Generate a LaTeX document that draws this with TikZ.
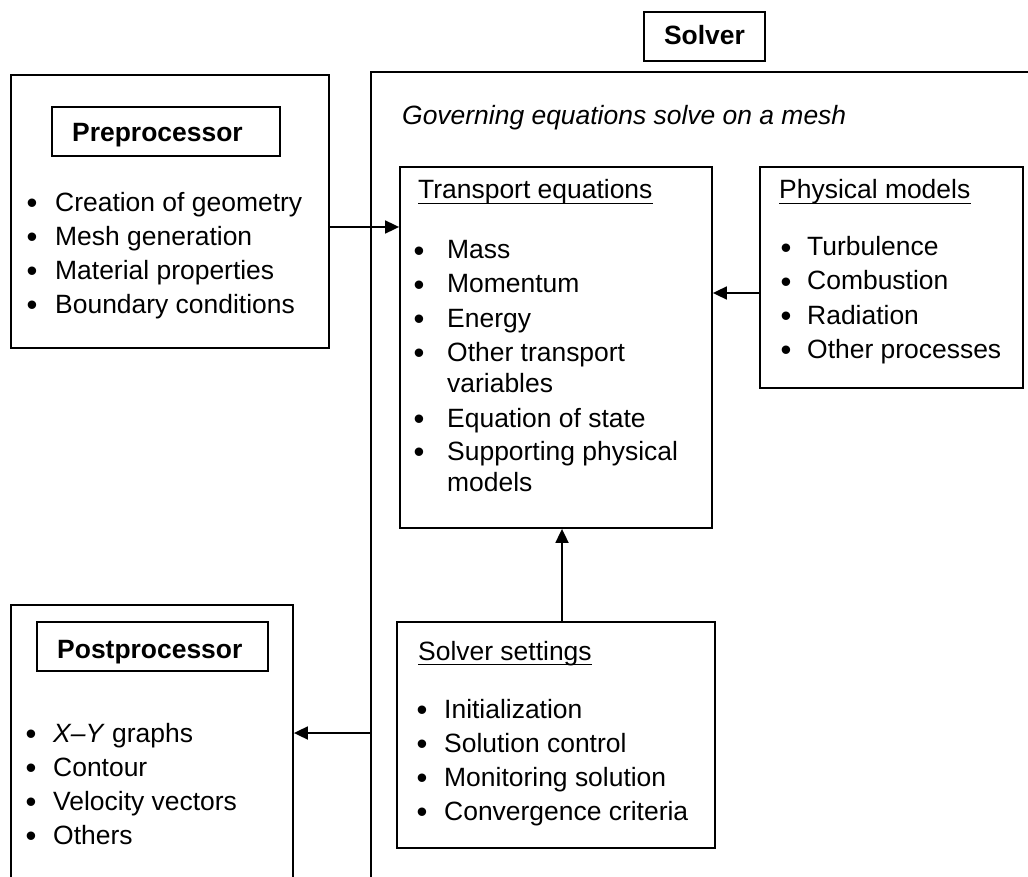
\documentclass[tikz,border=0pt]{standalone}
\usepackage{fontspec}
\setmainfont{Liberation Sans}
\usetikzlibrary{arrows.meta,fit}
\newcommand\fsz{\fontsize{26.45}{31}\selectfont}
\newcommand\bsz{\fontsize{31}{31}\selectfont}
\tikzset{
  box/.style={draw, line width=1.8pt, inner sep=0pt},
  txt/.style={anchor=base west, inner sep=0pt, font=\fsz},
  bul/.style={anchor=base, inner sep=0pt, font=\bsz, yshift=-2.5pt},
  ttl/.style={anchor=base west, inner sep=0pt, font=\fsz\bfseries},
  uline/.style={line width=1.5pt},
  conn/.style={line width=1.8pt, -{Triangle[length=14pt,width=13pt]}}
}
\begin{document}
\begin{tikzpicture}[x=1pt,y=-1pt]
\clip (0,0) rectangle (1028,877);
\fill[white] (0,0) rectangle (1028,877);

% ---- Solver frame ----
\node[box, fit={(371,72) (1100,960)}] (solver) {};
\node[box, fit={(644,12) (765,61)}] (solvertitle) {};
\node[ttl, anchor=base] (solvertxt) at (704.5,45) {Solver};
\node[txt, font=\fsz\itshape] (gov) at (402,125) {Governing equations solve on a mesh};

% ---- Preprocessor ----
\node[box, fit={(11,75) (329,348)}] (pre) {};
\node[box, fit={(52,107) (280,156)}] (pretitle) {};
\node[ttl] (pretxt) at (72,142) {Preprocessor};
\foreach \t [count=\i] in {Creation of geometry, Mesh generation, Material properties, Boundary conditions} {
  \node[bul] (preb\i) at (32, 177.5+34*\i) {•};
  \node[txt] (pret\i) at (55, 177.5+34*\i) {\t};
}

% ---- Transport equations ----
\node[box, fit={(400,167) (712,528)}] (trans) {};
\node[txt] (transtitle) at (418,199) {Transport equations};
\draw[uline] ([yshift=-4.5pt]transtitle.base west) -- ([yshift=-4.5pt]transtitle.base east);
\node[bul] (tb1) at (419,259) {•}; \node[txt] (tt1) at (447,259) {Mass};
\node[bul] (tb2) at (419,293) {•}; \node[txt] (tt2) at (447,293) {Momentum};
\node[bul] (tb3) at (419,327) {•}; \node[txt] (tt3) at (447,327) {Energy};
\node[bul] (tb4) at (419,361) {•}; \node[txt] (tt4) at (447,361) {Other transport};
\node[txt] (tt4b) at (447,392) {variables};
\node[bul] (tb5) at (419,427) {•}; \node[txt] (tt5) at (447,427) {Equation of state};
\node[bul] (tb6) at (419,460) {•}; \node[txt] (tt6) at (447,460) {Supporting physical};
\node[txt] (tt6b) at (447,491) {models};

% ---- Physical models ----
\node[box, fit={(760,167) (1023,388)}] (phys) {};
\node[txt] (phystitle) at (779,199) {Physical models};
\draw[uline] ([yshift=-4.5pt]phystitle.base west) -- ([yshift=-4.5pt]phystitle.base east);
\foreach \t [count=\i] in {Turbulence, Combustion, Radiation, Other processes} {
  \node[bul] (pb\i) at (786, 222+34*\i) {•};
  \node[txt] (pt\i) at (807, 222+34*\i) {\t};
}

% ---- Solver settings ----
\node[box, fit={(397,622) (715,848)}] (set) {};
\node[txt] (settitle) at (418,660) {Solver settings};
\draw[uline] ([yshift=-4.5pt]settitle.base west) -- ([yshift=-4.5pt]settitle.base east);
\foreach \t [count=\i] in {Initialization, Solution control, Monitoring solution, Convergence criteria} {
  \node[bul] (sb\i) at (422, 684+34*\i) {•};
  \node[txt] (st\i) at (444, 684+34*\i) {\t};
}

% ---- Postprocessor ----
\node[box, fit={(11,605) (293,960)}] (post) {};
\node[box, fit={(37,622) (268,671)}] (posttitle) {};
\node[ttl] (posttxt) at (57,658) {Postprocessor};
\node[bul] (qb1) at (31,742) {•}; \node[txt] (qt1) at (53,742) {\textit{X–Y} graphs};
\node[bul] (qb2) at (31,776) {•}; \node[txt] (qt2) at (53,776) {Contour};
\node[bul] (qb3) at (31,810) {•}; \node[txt] (qt3) at (53,810) {Velocity vectors};
\node[bul] (qb4) at (31,844) {•}; \node[txt] (qt4) at (53,844) {Others};

% ---- Connectors ----
\coordinate (ya) at (0,227);
\coordinate (yb) at (0,293);
\coordinate (yc) at (0,733);
\coordinate (xa) at (562,0);
\draw[conn] (pre.east |- ya) -- (trans.west |- ya);
\draw[conn] (phys.west |- yb) -- (trans.east |- yb);
\draw[conn] (set.north -| xa) -- (trans.south -| xa);
\draw[conn] (solver.west |- yc) -- (post.east |- yc);
\end{tikzpicture}
\end{document}
